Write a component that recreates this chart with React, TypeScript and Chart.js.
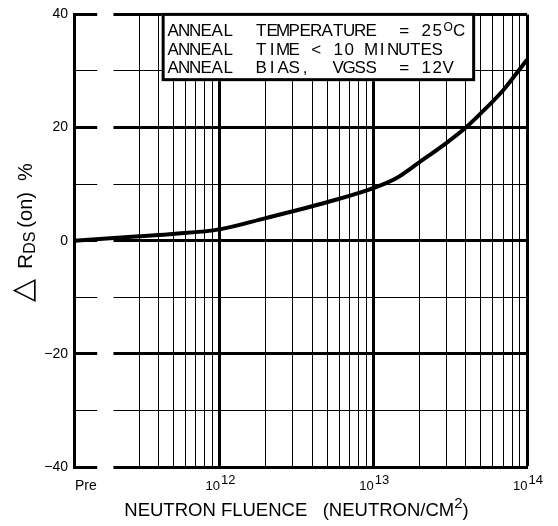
import { useEffect, useRef } from 'react';
import { Chart, registerables } from 'chart.js';

Chart.register(...registerables);

// ---- data ----
const PRE = 1.13e11; // position of the "Pre" (pre-irradiation) point on the fluence axis
const FLUENCE = [PRE, 3e11, 5e11, 1e12, 2e12, 3e12, 5e12, 1e13, 1.4e13, 2e13, 3e13, 4e13, 5e13, 7e13, 1e14];
const DELTA_RDS = [0, 0.8, 1.2, 2.0, 4.0, 5.2, 6.8, 9.3, 11.0, 13.9, 17.3, 20.0, 22.5, 26.6, 32.0];

// ---- axes ----
const X_MIN = PRE;
const X_MAX = 1e14;
const X_GRID = [
  3e11, 4e11, 5e11, 6e11, 7e11, 8e11, 9e11, 1e12,
  2e12, 3e12, 4e12, 5e12, 6e12, 7e12, 8e12, 9e12, 1e13,
  2e13, 3e13, 4e13, 5e13, 6e13, 7e13, 8e13, 9e13, 1e14,
];
const X_TICK_VALUES = [1.35e11, 1e12, 1e13, 1e14];
const X_TICK_BASE = ['Pre', '10', '10', '10'];
const X_TICK_EXP = ['', '12', '13', '14'];
const AXIS_BREAK = [1.6e11, 2.04e11];

const Y_MIN = -40;
const Y_MAX = 40;
const Y_STEP = 10;
const Y_LABEL_EVERY = 20;

// ---- annotation ----
const NOTE_LINES = [
  [{ t: 'ANNEAL  TEMPERATURE  = 25' }, { t: 'O', sup: true }, { t: 'C' }],
  [{ t: 'ANNEAL  TIME < 10 MINUTES' }],
  [{ t: 'ANNEAL  BIAS,  VGSS  = 12V' }],
];
const NOTE_BOX_X = [4.2e11, 4.6e13];
const NOTE_BOX_Y = [28.2, 40];

const SANS = "'Liberation Sans', Arial, sans-serif";

const isDecade = (v: number) => Math.abs(Math.log10(v) - Math.round(Math.log10(v))) < 1e-6;

type Seg = { t: string; font: string; dy?: number; gap?: number };

function drawRich(ctx: CanvasRenderingContext2D, segs: Seg[], x: number, y: number) {
  let total = 0;
  for (const s of segs) {
    ctx.font = s.font;
    total += (s.gap || 0) + ctx.measureText(s.t).width;
  }
  let cx = x - total / 2;
  ctx.textAlign = 'left';
  ctx.textBaseline = 'alphabetic';
  for (const s of segs) {
    ctx.font = s.font;
    cx += s.gap || 0;
    ctx.fillText(s.t, cx, y + (s.dy || 0));
    cx += ctx.measureText(s.t).width;
  }
}

const decor = {
  id: 'decor',
  beforeDatasetsDraw(chart: any) {
    const { ctx, chartArea, scales } = chart;
    const x0 = scales.x.getPixelForValue(AXIS_BREAK[0]);
    const x1 = scales.x.getPixelForValue(AXIS_BREAK[1]);
    ctx.save();
    ctx.fillStyle = '#fff';
    ctx.fillRect(x0, chartArea.top - 4, x1 - x0, chartArea.bottom - chartArea.top + 8);
    ctx.restore();
  },
  afterDatasetsDraw(chart: any) {
    const { ctx, chartArea, scales } = chart;
    const xs = scales.x;
    const ys = scales.y;
    ctx.save();
    ctx.fillStyle = '#000';

    // annotation box
    const bx0 = xs.getPixelForValue(NOTE_BOX_X[0]);
    const bx1 = xs.getPixelForValue(NOTE_BOX_X[1]);
    const by0 = ys.getPixelForValue(NOTE_BOX_Y[1]);
    const by1 = ys.getPixelForValue(NOTE_BOX_Y[0]);
    ctx.fillStyle = '#fff';
    ctx.fillRect(bx0, by0, bx1 - bx0, by1 - by0);
    ctx.strokeStyle = '#000';
    ctx.lineWidth = 3;
    ctx.strokeRect(bx0 + 1.5, by0, bx1 - bx0 - 3, by1 - by0 - 1.5);
    ctx.fillStyle = '#000';
    ctx.textAlign = 'center';
    ctx.textBaseline = 'alphabetic';
    const pitch = 11;
    const baseOffsets = [22, 40.5, 59];
    NOTE_LINES.forEach((line, li) => {
      let i = 0;
      const by = by0 + baseOffsets[li];
      for (const seg of line as any[]) {
        ctx.font = seg.sup ? `12px ${SANS}` : `17px ${SANS}`;
        for (const ch of seg.t) {
          if (ch !== ' ') ctx.fillText(ch, bx0 + 6 + i * pitch + pitch / 2, by - (seg.sup ? 5 : 0));
          i++;
        }
      }
    });

    // x tick labels
    X_TICK_VALUES.forEach((v, i) => {
      const px = xs.getPixelForValue(v);
      if (X_TICK_EXP[i]) {
        drawRich(ctx, [
          { t: X_TICK_BASE[i], font: `13px ${SANS}` },
          { t: X_TICK_EXP[i], font: `13px ${SANS}`, dy: -6, gap: 1 },
        ], px + 1, chartArea.bottom + 23);
      } else {
        drawRich(ctx, [{ t: X_TICK_BASE[i], font: `14px ${SANS}` }], px, chartArea.bottom + 23);
      }
    });

    // x title
    const cx = (chartArea.left + chartArea.right) / 2 - 4;
    drawRich(ctx, [
      { t: 'NEUTRON FLUENCE   (NEUTRON/CM', font: `18.5px ${SANS}` },
      { t: '2', font: `15px ${SANS}`, dy: -8 },
      { t: ')', font: `18.5px ${SANS}` },
    ], cx, chartArea.bottom + 49);

    // y title (rotated)
    const cy = (chartArea.top + chartArea.bottom) / 2 - 8;
    ctx.translate(32, cy);
    ctx.rotate(-Math.PI / 2);
    drawRich(ctx, [
      { t: '\u25B3', font: `30px 'DejaVu Sans', sans-serif` },
      { t: 'R', font: `21px ${SANS}`, gap: 10 },
      { t: 'DS', font: `16px ${SANS}`, dy: 3 },
      { t: '(on)', font: `20px ${SANS}`, gap: 4 },
      { t: '%', font: `20px ${SANS}`, gap: 11 },
    ], 0, 0);
    ctx.restore();
  },
};

export default function App() {
  const ref = useRef<HTMLCanvasElement | null>(null);
  useEffect(() => {
    if (!ref.current) return;
    const chart = new Chart(ref.current, {
      type: 'line',
      data: {
        datasets: [
          {
            data: FLUENCE.map((x, i) => ({ x, y: DELTA_RDS[i] })),
            borderColor: '#000',
            borderWidth: 4,
            pointRadius: 0,
            fill: false,
            cubicInterpolationMode: 'monotone',
          },
        ],
      },
      options: {
        responsive: false,
        animation: false,
        layout: { padding: { top: 11, right: 31, bottom: 0, left: 0 } },
        plugins: { legend: { display: false }, tooltip: { enabled: false }, title: { display: false } },
        scales: {
          x: {
            type: 'logarithmic',
            min: X_MIN,
            max: X_MAX,
            afterBuildTicks: (s: any) => {
              s.ticks = X_GRID.map((value) => ({ value }));
            },
            afterFit: (s: any) => {
              s.height = 59;
            },
            ticks: { display: false },
            grid: {
              color: '#000',
              drawTicks: false,
              lineWidth: (c: any) => (c.tick && isDecade(c.tick.value) ? 3 : 1),
            },
            border: { display: true, color: '#000', width: 3 },
          },
          y: {
            type: 'linear',
            min: Y_MIN,
            max: Y_MAX,
            afterFit: (s: any) => {
              s.width = 74;
            },
            ticks: {
              stepSize: Y_STEP,
              padding: 6,
              color: '#000',
              font: { family: SANS, size: 14 },
              callback: (v: any) =>
                Number(v) % Y_LABEL_EVERY === 0 ? (Number(v) < 0 ? '\u2212' + Math.abs(Number(v)) : String(v)) : '',
            },
            grid: {
              color: '#000',
              drawTicks: false,
              lineWidth: (c: any) => (c.tick && c.tick.value % Y_LABEL_EVERY === 0 ? 3 : 1),
            },
            border: { display: true, color: '#000', width: 3 },
          },
        },
      },
      plugins: [decor],
    } as any);
    return () => chart.destroy();
  }, []);
  return (
    <div style={{ position: 'fixed', left: 0, top: 0, width: 558, height: 526, background: '#fff' }}>
      <canvas ref={ref} width={558} height={526} style={{ display: 'block' }} />
    </div>
  );
}
